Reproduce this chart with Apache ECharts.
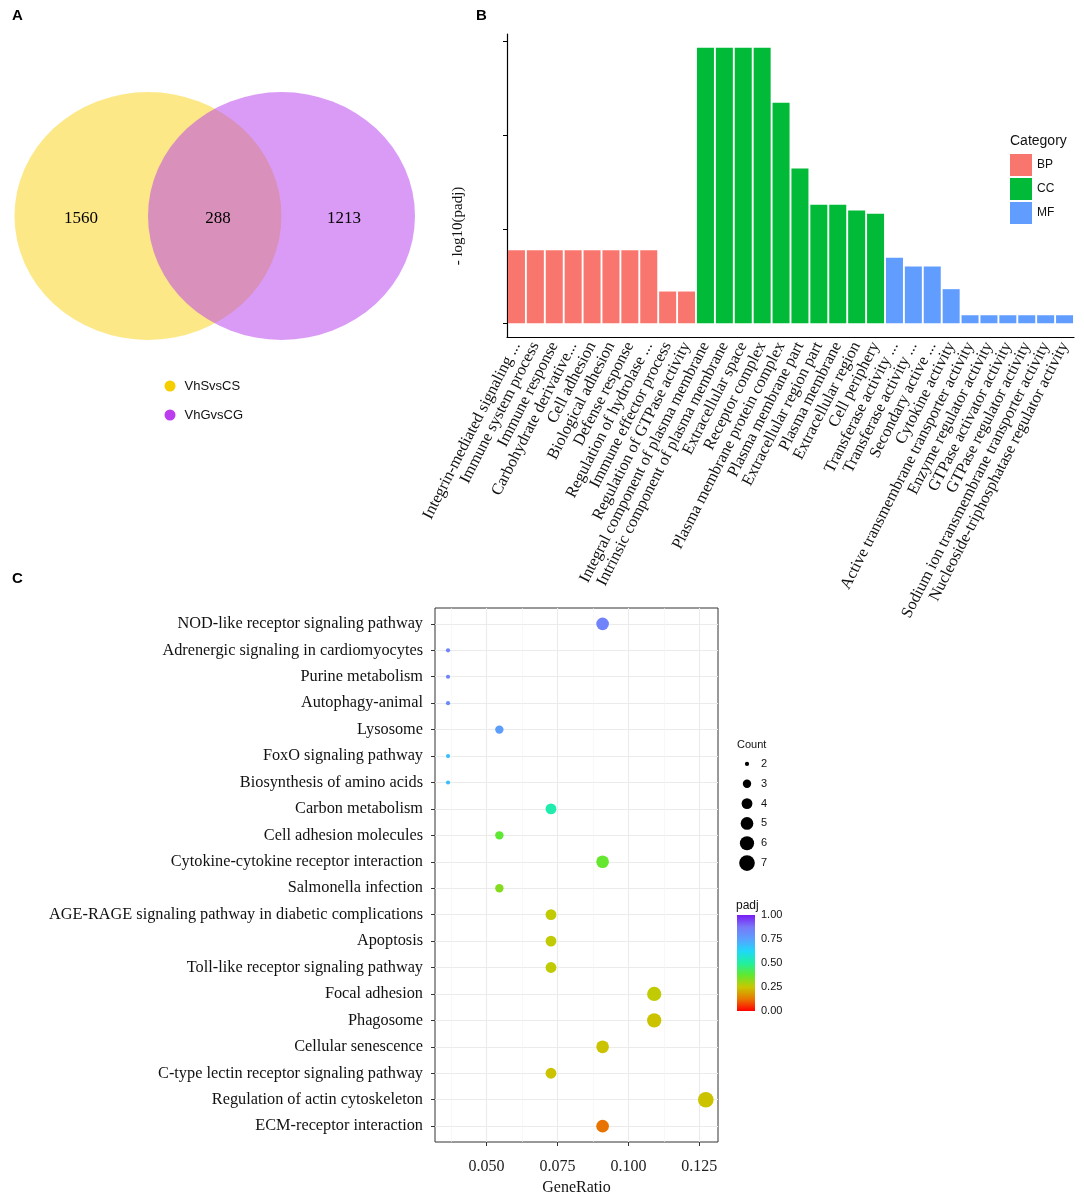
<!DOCTYPE html>
<html>
<head>
<meta charset="utf-8">
<script src="https://cdn.jsdelivr.net/npm/echarts@6/dist/echarts.min.js"></script>
<style>
html,body{margin:0;padding:0;background:#fff;}
#main{width:1084px;height:1197px;}
</style>
</head>
<body>
<div id="main"></div>
<script>
// ---------- Panel A data ----------
const vennSets = ['VhSvsCS', 'VhGvsCG'];
const vennCounts = [1560, 288, 1213]; // only set1, overlap, only set2

// ---------- Panel B data ----------
const bpTerms = ['Integrin-mediated signaling ...', 'Immune system process', 'Immune response', 'Carbohydrate derivative...', 'Cell adhesion', 'Biological adhesion', 'Defense response', 'Regulation of hydrolase ...', 'Immune effector process', 'Regulation of GTPase activity'];
const bpValues = [0.776, 0.776, 0.776, 0.776, 0.776, 0.776, 0.776, 0.776, 0.337, 0.337];
const ccTerms = ['Integral component of plasma membrane', 'Intrinsic component of plasma membrane', 'Extracellular space', 'Receptor complex', 'Plasma membrane protein complex', 'Plasma membrane part', 'Extracellular region part', 'Plasma membrane', 'Extracellular region', 'Cell periphery'];
const ccValues = [2.926, 2.926, 2.926, 2.926, 2.342, 1.644, 1.258, 1.258, 1.198, 1.162];
const mfTerms = ['Transferase activity ...', 'Transferase activity ...', 'Secondary active ...', 'Cytokine activity', 'Active transmembrane transporter activity', 'Enzyme regulator activity', 'GTPase activator activity', 'GTPase regulator activity', 'Sodium ion transmembrane transporter activity', 'Nucleoside-triphosphatase regulator activity'];
const mfValues = [0.695, 0.603, 0.603, 0.362, 0.085, 0.085, 0.085, 0.085, 0.085, 0.085];
const categoryNames = ['BP', 'CC', 'MF'];
const bTicks = [0, 1, 2, 3];

// ---------- Panel C data ----------
const pathways = ['NOD-like receptor signaling pathway', 'Adrenergic signaling in cardiomyocytes', 'Purine metabolism', 'Autophagy-animal', 'Lysosome', 'FoxO signaling pathway', 'Biosynthesis of amino acids', 'Carbon metabolism', 'Cell adhesion molecules', 'Cytokine-cytokine receptor interaction', 'Salmonella infection', 'AGE-RAGE signaling pathway in diabetic complications', 'Apoptosis', 'Toll-like receptor signaling pathway', 'Focal adhesion', 'Phagosome', 'Cellular senescence', 'C-type lectin receptor signaling pathway', 'Regulation of actin cytoskeleton', 'ECM-receptor interaction'];
const geneRatio = [0.0909, 0.0364, 0.0364, 0.0364, 0.0545, 0.0364, 0.0364, 0.0727, 0.0545, 0.0909, 0.0545, 0.0727, 0.0727, 0.0727, 0.1091, 0.1091, 0.0909, 0.0727, 0.1273, 0.0909];
const counts = [5, 2, 2, 2, 3, 2, 2, 4, 3, 5, 3, 4, 4, 4, 6, 6, 5, 4, 7, 5];
const padj = [0.84, 0.84, 0.84, 0.82, 0.76, 0.68, 0.68, 0.52, 0.38, 0.37, 0.33, 0.26, 0.26, 0.26, 0.26, 0.24, 0.24, 0.24, 0.24, 0.12];
const xTicks = [0.050, 0.075, 0.100, 0.125];
const countLevels = [2, 3, 4, 5, 6, 7];
const padjTicks = [0, 0.25, 0.5, 0.75, 1];

// ---------- styling ----------
const SERIF = '"Liberation Serif", "Times New Roman", serif';
const SANS = '"Liberation Sans", Arial, sans-serif';
const rainbow = ['#FF0000', '#E87800', '#C8C800', '#60E830', '#20F0A0', '#20D8F8', '#5AA0FF', '#7878F8', '#7A1CF5'];
const barColors = { BP: '#F8766D', CC: '#00BA38', MF: '#619CFF' };
function dotSize(c) { return Math.max(4.2, 2.6 * (1 + 5 * Math.sqrt((c - 2) / 5))); }

const chart = echarts.init(document.getElementById('main'), null, { renderer: 'canvas' });

const categoriesB = bpTerms.concat(ccTerms, mfTerms);
const groups = [bpValues, ccValues, mfValues];
let offset = 0;
const barSeries = categoryNames.map((name, gi) => {
  const vals = groups[gi];
  const data = categoriesB.map((_, i) => (i >= offset && i < offset + vals.length) ? vals[i - offset] : '-');
  offset += vals.length;
  return {
    name: name, type: 'bar', xAxisIndex: 1, yAxisIndex: 1,
    data: data, barGap: '-100%', barCategoryGap: '10%',
    itemStyle: { color: barColors[name] },
    emphasis: { disabled: true }
  };
});

const dotData = pathways.map((p, i) => [geneRatio[i], i, padj[i], counts[i]]);
const rowIdx = pathways.map((_, i) => i);

const option = {
  animation: false,
  backgroundColor: '#fff',
  grid: [
    { left: 0, top: 0, width: 430, height: 440 },
    { left: 507, top: 34, width: 567, height: 303 },
    { left: 435, top: 608, width: 283, height: 535, show: true, borderColor: '#333', borderWidth: 1, backgroundColor: 'transparent' },
    { left: 740, top: 754, width: 14, height: 119 },
    { left: 737, top: 915, width: 18, height: 96 }
  ],
  xAxis: [
    { gridIndex: 0, type: 'value', min: 0, max: 430, show: false },
    { gridIndex: 1, type: 'category', data: categoriesB,
      axisLine: { onZero: false, lineStyle: { color: '#000', width: 1.2 } },
      axisTick: { alignWithLabel: true, length: 4, lineStyle: { color: '#000' } },
      axisLabel: { interval: 0, rotate: 63, fontFamily: SERIF, fontSize: 16.3, color: '#111', margin: 6 } },
    { gridIndex: 2, type: 'value', min: 0.0318, max: 0.1316, minInterval: 0.025, maxInterval: 0.025, splitNumber: 4,
      name: 'GeneRatio', nameLocation: 'middle', nameGap: 38,
      nameTextStyle: { fontFamily: SERIF, fontSize: 16, color: '#111' },
      axisLine: { show: false, onZero: false },
      axisTick: { length: 4, customValues: xTicks, lineStyle: { color: '#333' } },
      axisLabel: { fontFamily: SERIF, fontSize: 16, color: '#222', margin: 17, customValues: xTicks,
        formatter: v => v.toFixed(3) },
      splitLine: { show: true, lineStyle: { color: '#EBEBEB', width: 1.1 } },
      minorTick: { show: false, splitNumber: 2 },
      minorSplitLine: { show: true, lineStyle: { color: '#F4F4F4', width: 0.6 } } },
    { gridIndex: 3, type: 'category', data: [''], show: false },
    { gridIndex: 4, type: 'category', data: [''], show: false }
  ],
  yAxis: [
    { gridIndex: 0, type: 'value', min: 0, max: 440, inverse: true, show: false },
    { gridIndex: 1, type: 'value', min: -0.146, max: 3.072, minInterval: 1, maxInterval: 1,
      axisLine: { show: true, onZero: false, lineStyle: { color: '#000', width: 1.2 } },
      axisTick: { show: true, length: 4, customValues: bTicks, lineStyle: { color: '#000' } },
      axisLabel: { show: false }, splitLine: { show: false } },
    { gridIndex: 2, type: 'value', min: -0.6, max: 19.6, inverse: true, minInterval: 1, maxInterval: 1,
      axisLine: { show: false, onZero: false },
      axisTick: { length: 4, customValues: rowIdx, lineStyle: { color: '#333' } },
      axisLabel: { fontFamily: SERIF, fontSize: 16.3, color: '#111', margin: 12, customValues: rowIdx,
        formatter: v => pathways[Math.round(v)] },
      splitLine: { show: true, lineStyle: { color: '#EBEBEB', width: 1.1 } } },
    { gridIndex: 3, type: 'category', data: countLevels.map(String), inverse: true, position: 'right',
      axisLine: { show: false }, axisTick: { show: false },
      axisLabel: { fontFamily: SANS, fontSize: 11, color: '#111', margin: 7 } },
    { gridIndex: 4, type: 'value', min: 0, max: 1, minInterval: 0.25, maxInterval: 0.25, position: 'right',
      axisLine: { show: false },
      axisTick: { show: true, inside: true, length: 3, customValues: padjTicks, lineStyle: { color: '#fff', width: 1 } },
      axisLabel: { fontFamily: SANS, fontSize: 11, color: '#111', margin: 6, customValues: padjTicks, formatter: v => v.toFixed(2) },
      splitLine: { show: false } }
  ],
  legend: {
    data: categoryNames, orient: 'vertical', left: 1005, top: 149,
    itemWidth: 22, itemHeight: 22, itemGap: 2, icon: 'rect',
    textStyle: { fontFamily: SANS, fontSize: 12, color: '#111' },
    selectedMode: false
  },
  visualMap: {
    show: false, type: 'continuous', seriesIndex: 6, dimension: 2, min: 0, max: 1,
    inRange: { color: rainbow }
  },
  series: [
    // Panel A: Venn circles
    { type: 'scatter', xAxisIndex: 0, yAxisIndex: 0, name: vennSets[0], data: [[148, 216]],
      symbolSize: [267, 248], itemStyle: { color: 'rgba(251,209,15,0.5)', opacity: 1 }, z: 1, silent: true },
    { type: 'scatter', xAxisIndex: 0, yAxisIndex: 0, name: vennSets[1], data: [[281.5, 216]],
      symbolSize: [267, 248], itemStyle: { color: 'rgba(181,55,237,0.5)', opacity: 1 }, z: 2, silent: true },
    { type: 'scatter', xAxisIndex: 0, yAxisIndex: 0, symbolSize: 0, z: 3, silent: true,
      data: [[81, 219, vennCounts[0]], [218, 219, vennCounts[1]], [344, 219, vennCounts[2]]],
      itemStyle: { opacity: 1 },
      label: { show: true, position: 'inside', formatter: p => String(p.value[2]), fontFamily: SERIF, fontSize: 17, color: '#000' } },
    { type: 'scatter', xAxisIndex: 0, yAxisIndex: 0, symbolSize: 11, z: 3, silent: true,
      data: [
        { value: [170, 386], name: vennSets[0], itemStyle: { color: '#F5CE00', opacity: 1 } },
        { value: [170, 415], name: vennSets[1], itemStyle: { color: '#BC3CF0', opacity: 1 } }
      ],
      label: { show: true, position: 'right', distance: 9, formatter: p => p.name, fontFamily: SANS, fontSize: 13, color: '#111' } },
    // Panel B bars
    barSeries[0], barSeries[1],
    // Panel C dots (index 6)
    { type: 'scatter', xAxisIndex: 2, yAxisIndex: 2, data: dotData, z: 5,
      itemStyle: { opacity: 1 },
      symbolSize: v => dotSize(v[3]), emphasis: { disabled: true } },
    barSeries[2],
    // Count size legend
    { type: 'scatter', xAxisIndex: 3, yAxisIndex: 3, silent: true,
      data: countLevels.map(c => [0, String(c), c]),
      symbolSize: v => dotSize(v[2]), itemStyle: { color: '#000', opacity: 1 } },
    // padj colourbar
    { type: 'bar', xAxisIndex: 4, yAxisIndex: 4, data: [1], barWidth: '100%', silent: true,
      itemStyle: { color: new echarts.graphic.LinearGradient(0, 1, 0, 0,
        rainbow.map((c, i) => ({ offset: i / (rainbow.length - 1), color: c }))) } }
  ],
  graphic: [
    { type: 'text', left: 12, top: 8, style: { text: 'A', font: 'bold 15px ' + SANS, fill: '#000' } },
    { type: 'text', left: 476, top: 8, style: { text: 'B', font: 'bold 15px ' + SANS, fill: '#000' } },
    { type: 'text', left: 12, top: 571, style: { text: 'C', font: 'bold 15px ' + SANS, fill: '#000' } },
    { type: 'text', x: 458, y: 226, rotation: Math.PI / 2,
      style: { text: '- log10(padj)', font: '15px ' + SERIF, fill: '#111', align: 'center', verticalAlign: 'middle' } },
    { type: 'text', x: 1010, y: 141, style: { text: 'Category', font: '14px ' + SANS, fill: '#111', verticalAlign: 'middle' } },
    { type: 'text', x: 737, y: 745, style: { text: 'Count', font: '11px ' + SANS, fill: '#111', verticalAlign: 'middle' } },
    { type: 'text', x: 736, y: 906, style: { text: 'padj', font: '12px ' + SANS, fill: '#111', verticalAlign: 'middle' } }
  ]
};
chart.setOption(option);
</script>
</body>
</html>
